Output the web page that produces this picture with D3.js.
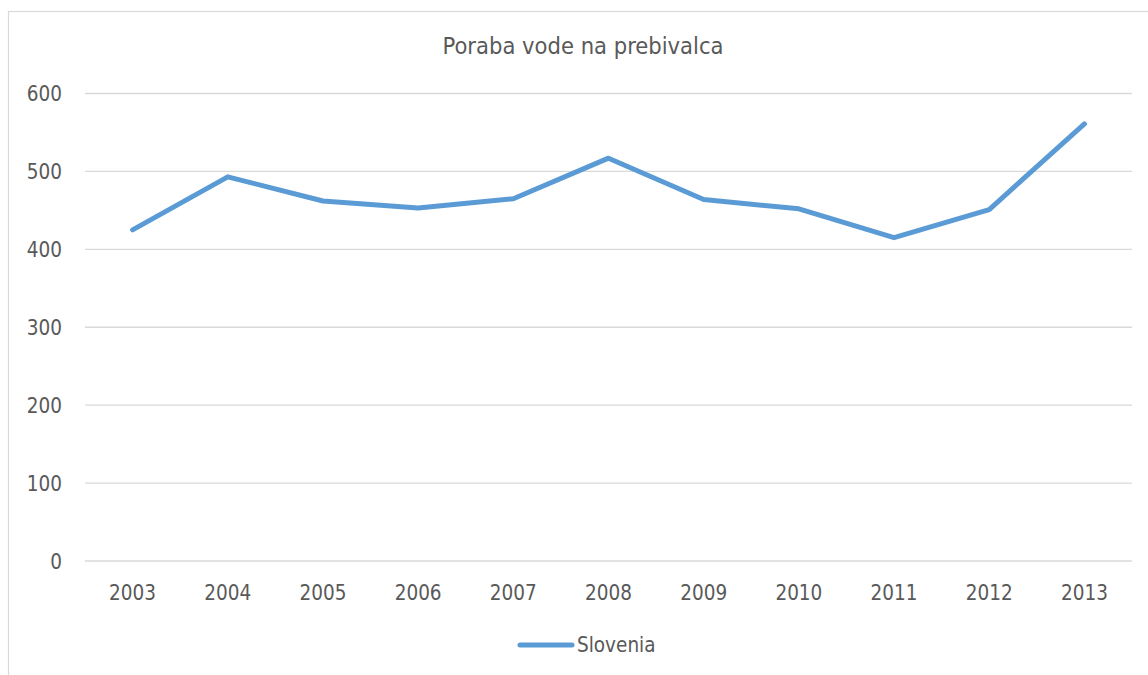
<!DOCTYPE html>
<html>
<head>
<meta charset="utf-8">
<script src="https://cdn.jsdelivr.net/npm/d3@7"></script>
<style>
  html, body { margin: 0; padding: 0; background: #fff; }
  svg { display: block; }
  text { font-family: "DejaVu Sans Condensed", "DejaVu Sans", sans-serif; font-stretch: condensed; fill: #595959; }
</style>
</head>
<body>
<svg id="chart" width="1148" height="675"></svg>
<script>
const years = ["2003","2004","2005","2006","2007","2008","2009","2010","2011","2012","2013"];
const slovenia = [425, 493, 462, 453, 465, 517, 464, 452, 415, 451, 561];
const yTicks = [0, 100, 200, 300, 400, 500, 600];
const seriesName = "Slovenia";
const chartTitle = "Poraba vode na prebivalca";

const svg = d3.select("#chart");
const plot = { left: 85, right: 1132, top: 93.5, bottom: 561 };

// outer chart border
svg.append("rect")
  .attr("x", 8.5).attr("y", 11.5)
  .attr("width", 1160).attr("height", 700)
  .attr("fill", "none").attr("stroke", "#d9d9d9").attr("stroke-width", 1.2);

const x = d3.scaleBand().domain(years).range([plot.left, plot.right]);
const y = d3.scaleLinear().domain([0, 600]).range([plot.bottom, plot.top]);

// gridlines
svg.append("g")
  .selectAll("line").data(yTicks).join("line")
  .attr("x1", plot.left).attr("x2", plot.right)
  .attr("y1", d => y(d)).attr("y2", d => y(d))
  .attr("stroke", "#d9d9d9").attr("stroke-width", 1.3);

// y axis labels
const yAxis = d3.axisLeft(y).tickValues(yTicks).tickSize(0).tickPadding(0);
const gy = svg.append("g").attr("transform", `translate(62,0)`).call(yAxis);
gy.select(".domain").remove();
gy.selectAll("text").style("font-size", "20.5px").attr("fill", "#595959").attr("dy", "0.36em");

// x axis labels
const xAxis = d3.axisBottom(x).tickSize(0).tickPadding(0);
const gx = svg.append("g").attr("transform", `translate(0,${plot.bottom})`).call(xAxis);
gx.select(".domain").remove();
gx.selectAll("text").style("font-size", "20.5px").attr("fill", "#595959").attr("y", 39).attr("dy", "0");

// line
const line = d3.line()
  .x((d, i) => x(years[i]) + x.bandwidth() / 2)
  .y(d => y(d));
svg.append("path")
  .datum(slovenia)
  .attr("d", line)
  .attr("fill", "none")
  .attr("stroke", "#5b9bd5")
  .attr("stroke-width", 5)
  .attr("stroke-linejoin", "round")
  .attr("stroke-linecap", "round");

// title
svg.append("text")
  .attr("x", 583).attr("y", 54)
  .attr("text-anchor", "middle")
  .style("font-size", "23.5px")
  .text(chartTitle);

// legend
svg.append("line")
  .attr("x1", 520).attr("x2", 572).attr("y1", 645).attr("y2", 645)
  .attr("stroke", "#5b9bd5").attr("stroke-width", 5).attr("stroke-linecap", "round");
svg.append("text")
  .attr("x", 577).attr("y", 652)
  .style("font-size", "20.5px")
  .text(seriesName);
</script>
</body>
</html>
